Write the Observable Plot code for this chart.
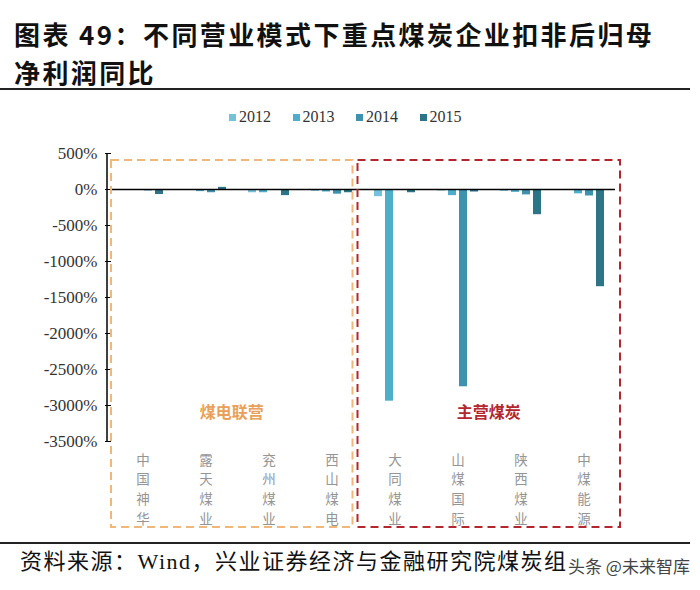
<!DOCTYPE html>
<html><head><meta charset="utf-8">
<script src="https://cdn.jsdelivr.net/npm/d3@7"></script>
<script src="https://cdn.jsdelivr.net/npm/@observablehq/plot@0.6"></script>
<style>
body{margin:0;width:700px;height:590px;position:relative;background:#fff;overflow:hidden;font-family:"Noto Sans CJK SC",sans-serif}
#title{position:absolute;left:14px;top:15px;font-size:26px;font-weight:700;line-height:38px;color:#111;white-space:nowrap;letter-spacing:2.4px}
.rule{position:absolute;left:0;width:690px;height:2px;background:#222}
#legend{position:absolute;top:107px;left:229px;display:flex;font-family:"Liberation Serif",serif;font-size:16px;color:#333;line-height:20px}
#legend .item{width:63.5px;display:flex;align-items:center}
#legend .sw{width:7px;height:7px;margin-right:3px}
#chart{position:absolute;top:135px;left:0}
#source{position:absolute;left:20px;top:547px;font-size:22px;line-height:30px;color:#111;font-family:"Liberation Serif","Noto Sans CJK SC",serif;white-space:nowrap;letter-spacing:1.5px}
#wm{position:absolute;left:568px;top:553px;font-size:17px;color:#444;white-space:nowrap;background:rgba(255,255,255,0.6)}
</style></head>
<body>
<div id="title">图表 49：不同营业模式下重点煤炭企业扣非后归母<br>净利润同比</div>
<div class="rule" style="top:88px"></div>
<div id="legend"></div>
<div id="chart"></div>
<div class="rule" style="top:542px"></div>
<div id="source">资料来源：Wind，兴业证券经济与金融研究院煤炭组</div>
<div id="wm">头条 @未来智库</div>
<script>
const companies = ["中国神华","露天煤业","兖州煤业","西山煤电","大同煤业","山煤国际","陕西煤业","中煤能源"];
const years = ["2012","2013","2014","2015"];
const v2012 = [0, 0, -45, -25, -100, -20, -25, 0];
const v2013 = [0, -30, -45, -35, -2940, -85, -40, -60];
const v2014 = [-20, -45, 0, -65, 0, -2740, -75, -90];
const v2015 = [-70, 30, -85, -45, -45, -35, -350, -1350];
const yTicks = [500, 0, -500, -1000, -1500, -2000, -2500, -3000, -3500];
const groups = [
  {name:"煤电联营", from:0, to:3, color:"#f0b77a", text:"#e8a05a"},
  {name:"主营煤炭", from:4, to:7, color:"#b3262d", text:"#b3262d"}
];
const colors = ["#74c2da","#4eadca","#3f92ad","#2e7487"];

const series = [v2012, v2013, v2014, v2015];
const rows = companies.flatMap((c, i) => years.map((y, j) => ({company: c, year: y, value: series[j][i]})));

// legend
const lg = document.getElementById("legend");
years.forEach((y, j) => {
  const it = document.createElement("div"); it.className = "item";
  it.innerHTML = `<span class="sw" style="background:${colors[j]}"></span><span>${y}</span>`;
  lg.appendChild(it);
});

const W = 700, H = 400, mL = 107, mR = 82, mT = 18, mB = 94;
const plot = Plot.plot({
  width: W, height: H, marginLeft: mL, marginRight: mR, marginTop: mT, marginBottom: mB,
  style: {fontFamily: "Liberation Serif, serif", fontSize: "17px", color: "#333", background: "transparent"},
  fx: {domain: companies, padding: 0, axis: null},
  x: {domain: years, paddingInner: 0.27, paddingOuter: 0.87, axis: null},
  y: {domain: [-3500, 500], axis: null},
  color: {domain: years, range: colors},
  marks: [
    Plot.barY(rows, {fx: "company", x: "year", y: "value", fill: "year"}),
    Plot.ruleY([0], {stroke: "#000", strokeWidth: 1.5}),
    Plot.axisY({ticks: yTicks, tickFormat: d => d + "%", tickSize: 6, tickPadding: 8, label: null, stroke: "#000", fill: "#333", fontSize: 17}),
    Plot.text(companies, {fx: d => d, text: d => d.split("").join("\n"), frameAnchor: "bottom", lineAnchor: "top", dy: 9, lineHeight: 1.46, fill: "#959595", fontSize: 13.5, fontFamily: "Noto Sans CJK SC"})
  ]
});
document.getElementById("chart").appendChild(plot);

// y axis line, dashed group boxes and labels, positioned with the plot's own scales
const fxo = plot.scale("fx");
const band = d3.scaleBand().domain(fxo.domain).range(fxo.range).padding(0);
const bw = band.bandwidth();
const ysc = Plot.scale({y: plot.scale("y")});
const yAt = v => ysc.apply(v);
const svg = d3.select(plot);
svg.append("line").attr("x1", band(companies[0])).attr("x2", band(companies[0]))
  .attr("y1", yAt(d3.max(yTicks))).attr("y2", yAt(d3.min(yTicks)))
  .attr("stroke", "#000").attr("stroke-width", 1.5);
const insets = [[4, -10], [-5, 2]];
groups.forEach((g, k) => {
  const x0 = band(companies[g.from]) + insets[k][0];
  const x1 = band(companies[g.to]) + bw + insets[k][1];
  const y0 = mT + 7, y1 = H - 8;
  svg.append("rect").attr("x", x0).attr("y", y0).attr("width", x1 - x0).attr("height", y1 - y0)
    .attr("fill", "none").attr("stroke", g.color).attr("stroke-width", 2).attr("stroke-dasharray", "8,5");
  svg.append("text").attr("x", (x0 + x1) / 2).attr("y", yAt(-3100)).attr("dy", "0.35em")
    .attr("text-anchor", "middle").attr("fill", g.text).attr("font-weight", 700)
    .attr("font-family", "Noto Sans CJK SC").attr("font-size", 16).text(g.name);
});
</script>
</body></html>
